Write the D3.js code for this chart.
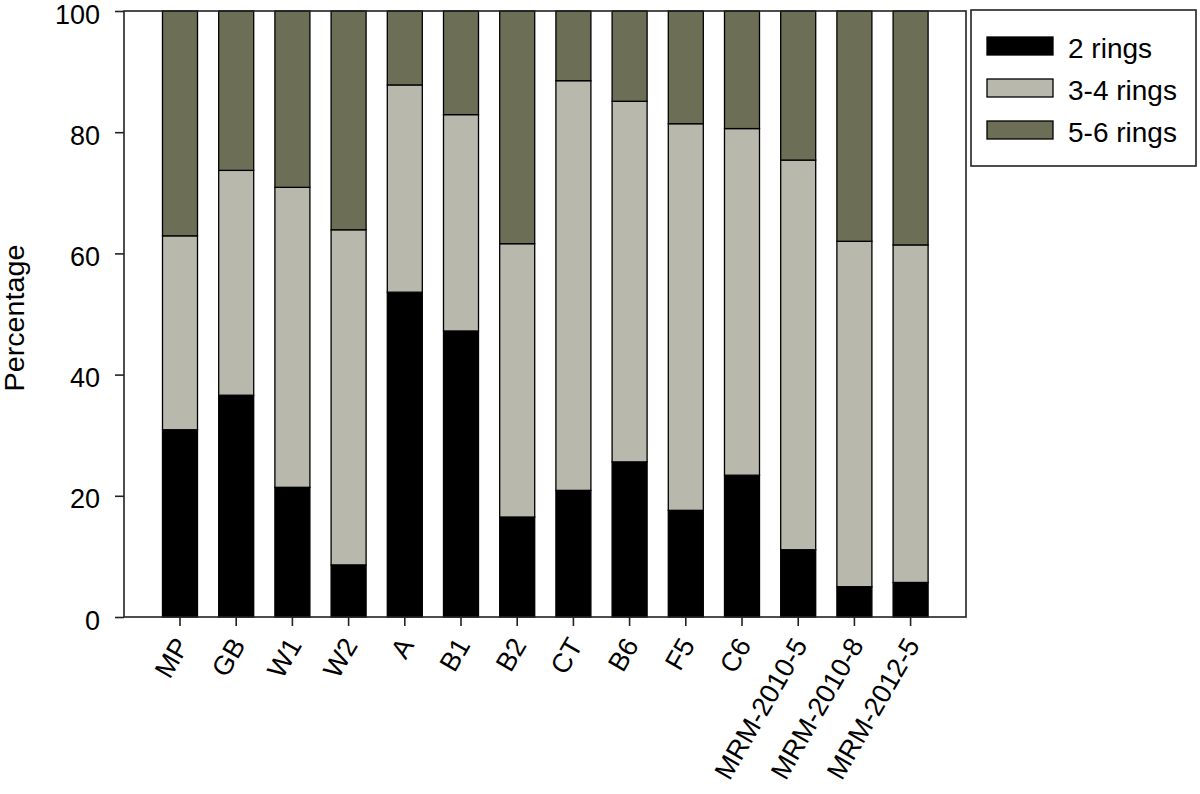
<!DOCTYPE html>
<meta charset='utf-8'>
<head>
<script src='https://d3js.org/d3.v7.min.js'></script>
<style>
  body{ margin: 0; background: #fff; }
  text{ font-family: 'Liberation Sans', Arial, sans-serif; fill: #000; }
</style>
</head>
<body>
<svg id="chart" width="1200" height="794"></svg>
<script>

  // sites along the x axis
  var sites = ['MP','GB','W1','W2','A','B1','B2','CT','B6','F5','C6',
               'MRM-2010-5','MRM-2010-8','MRM-2012-5'];

  // percentages
  var twoRings      = [30.9, 36.6, 21.4,  8.6, 53.6, 47.2, 16.5, 20.9, 25.6, 17.6, 23.4, 11.1,  5.0,  5.7];
  var threeFourRings= [32.0, 37.1, 49.5, 55.3, 34.2, 35.7, 45.1, 67.6, 59.5, 63.8, 57.2, 64.3, 57.0, 55.7];
  var fiveSixRings  = [37.1, 26.3, 29.1, 36.1, 12.2, 17.1, 38.4, 11.5, 14.9, 18.6, 19.4, 24.6, 38.0, 38.6];

  var seriesNames = ['2 rings', '3-4 rings', '5-6 rings'];
  var yTicks = [0, 20, 40, 60, 80, 100];

  var colors = ['#000000', '#b8b8ac', '#6d6e56'];

  var plot = {left: 124, right: 966, top: 11, bottom: 617};

  var data = sites.map(function(s, i) {
    return {site: s, '2 rings': twoRings[i], '3-4 rings': threeFourRings[i], '5-6 rings': fiveSixRings[i]};
  });

  var svg = d3.select('#chart');

  var x = d3.scaleBand()
      .domain(sites)
      .range([151.9, 938.7])
      .paddingInner(0.377)
      .paddingOuter(0.377 / 2);

  var y = d3.scaleLinear()
      .domain([0, 100])
      .range([plot.bottom, plot.top]);

  var color = d3.scaleOrdinal().domain(seriesNames).range(colors);

  var stack = d3.stack().keys(seriesNames);

  // bars
  svg.append('g').selectAll('g')
    .data(stack(data))
    .enter().append('g')
      .attr('fill', function(d) { return color(d.key); })
    .selectAll('rect')
    .data(function(d) { return d; })
    .enter().append('rect')
      .attr('x', function(d) { return x(d.data.site); })
      .attr('y', function(d) { return y(d[1]); })
      .attr('width', x.bandwidth())
      .attr('height', function(d) { return y(d[0]) - y(d[1]); })
      .attr('stroke', '#000')
      .attr('stroke-width', 1.3);

  // frame
  svg.append('rect')
    .attr('x', plot.left)
    .attr('y', plot.top)
    .attr('width', plot.right - plot.left)
    .attr('height', plot.bottom - plot.top)
    .attr('fill', 'none')
    .attr('stroke', '#222')
    .attr('stroke-width', 1.6);

  // y axis
  var yAxis = svg.append('g')
    .attr('transform', 'translate(' + plot.left + ',0)')
    .call(d3.axisLeft(y).tickValues(yTicks).tickSize(9).tickPadding(15));
  yAxis.select('.domain').remove();
  yAxis.selectAll('line').attr('stroke', '#222').attr('stroke-width', 1.6);
  yAxis.selectAll('text')
    .style('font-size', '27px')
    .attr('font-family', null)
    .attr('dy', 12);

  // x axis
  var xAxis = svg.append('g')
    .attr('transform', 'translate(0,' + plot.bottom + ')')
    .call(d3.axisBottom(x).tickSize(9).tickSizeOuter(0));
  xAxis.select('.domain').remove();
  xAxis.selectAll('line').attr('stroke', '#222').attr('stroke-width', 1.6);
  xAxis.selectAll('text')
    .style('font-size', '27px')
    .attr('font-family', null)
    .attr('text-anchor', 'end')
    .attr('dy', null)
    .attr('y', 0)
    .attr('transform', 'translate(10,28) rotate(-60)');

  // y title
  svg.append('text')
    .attr('transform', 'translate(24,318) rotate(-90)')
    .attr('text-anchor', 'middle')
    .style('font-size', '27px')
    .attr('textLength', 147)
    .attr('lengthAdjust', 'spacingAndGlyphs')
    .text('Percentage');

  // legend
  var legend = svg.append('g');
  legend.append('rect')
    .attr('x', 971).attr('y', 10)
    .attr('width', 225).attr('height', 156)
    .attr('fill', '#fff')
    .attr('stroke', '#222')
    .attr('stroke-width', 1.6);

  var items = legend.selectAll('.item')
    .data(seriesNames)
    .enter().append('g')
      .attr('class', 'item')
      .attr('transform', function(d, i) { return 'translate(987,' + (37 + i * 42) + ')'; });

  items.append('rect')
    .attr('width', 66)
    .attr('height', 18)
    .attr('fill', color)
    .attr('stroke', '#000')
    .attr('stroke-width', 1.3);

  items.append('text')
    .attr('x', 81)
    .attr('y', 20.5)
    .style('font-size', '28px')
    .text(function(d) { return d; });

</script>
</body>
